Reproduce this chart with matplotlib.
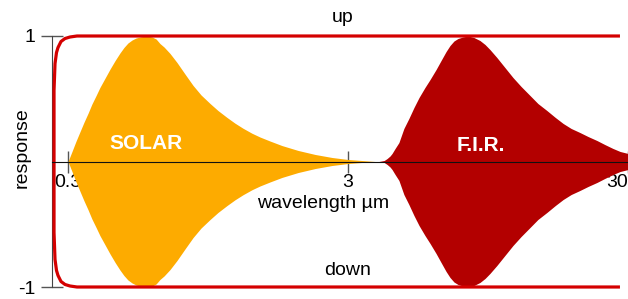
import numpy as np
import matplotlib
matplotlib.use("Agg")
import matplotlib.pyplot as plt

plt.rcParams['font.family'] = ['Liberation Sans', 'DejaVu Sans']

# ---------- Data ----------
# solar band, upper half (the lower half is its mirror image)
solar_wl = [0.300, 0.310, 0.320, 0.331, 0.342, 0.354, 0.365, 0.378, 0.390,
            0.407, 0.424, 0.442, 0.460, 0.475, 0.491, 0.508, 0.525, 0.547,
            0.575, 0.599, 0.619, 0.639, 0.661, 0.694, 0.735, 0.785, 0.839,
            0.896, 0.965, 1.03, 1.109, 1.185, 1.265, 1.362, 1.455, 1.58,
            1.743, 1.99, 2.29, 2.63, 3.0, 3.45, 3.75]
solar_resp = [0.0, 0.080, 0.159, 0.237, 0.312, 0.386, 0.457, 0.526, 0.590,
              0.665, 0.737, 0.805, 0.865, 0.908, 0.944, 0.968, 0.984, 0.994,
              1.0, 0.992, 0.976, 0.940, 0.912, 0.861, 0.789, 0.697, 0.606,
              0.530, 0.462, 0.406, 0.351, 0.305, 0.265, 0.225, 0.195, 0.163,
              0.127, 0.088, 0.056, 0.032, 0.016, 0.006, 0.0]

# far infrared band, upper half
fir_wl = [3.87, 4.04, 4.14, 4.24, 4.31, 4.42, 4.56, 4.75, 4.95, 5.16, 5.38,
          5.65, 5.89, 6.19, 6.45, 6.72, 6.94, 7.17, 7.41, 7.72, 8.05, 8.45,
          8.88, 9.26, 9.64, 10.2, 10.9, 11.65, 12.45, 13.4, 14.3, 15.4, 16.5,
          17.6, 18.8, 20.2, 21.6, 23.25, 24.8, 26.5, 28.1, 30.0, 35.0]
fir_resp = [0.0, 0.008, 0.024, 0.044, 0.064, 0.104, 0.151, 0.263, 0.343,
            0.43, 0.51, 0.59, 0.653, 0.733, 0.805, 0.876, 0.924, 0.96, 0.98,
            0.992, 1.0, 0.988, 0.964, 0.932, 0.892, 0.829, 0.749, 0.669,
            0.598, 0.526, 0.462, 0.406, 0.351, 0.303, 0.263, 0.231, 0.199,
            0.167, 0.135, 0.104, 0.08, 0.064, 0.04]

# envelope ("up" / "down" limits), upper half from right to left
env_wl = [28.08, 0.323, 0.305, 0.2927, 0.2832, 0.2763, 0.2729, 0.2696,
          0.2674, 0.2674]
env_resp = [1.0, 1.0, 0.992, 0.98, 0.956, 0.908, 0.868, 0.78, 0.566, 0.0]

xticks = [0.3, 3, 30]
xtick_labels = ["0.3", "3", "30"]
yticks = [-1, 1]
ytick_labels = ["-1", "1"]

# ---------- Plot ----------
fig = plt.figure(figsize=(6.28, 2.99), dpi=100)
ax = fig.add_axes([52/628, 12/299, 576/628, 251/299])

ax.fill_between(solar_wl, -np.array(solar_resp), solar_resp,
                color='#fdab00', lw=0, zorder=2)
ax.fill_between(fir_wl, -np.array(fir_resp), fir_resp,
                color='#b30000', lw=0, zorder=2)

ex = np.concatenate([env_wl, env_wl[::-1]])
ey = np.concatenate([env_resp, -np.array(env_resp[::-1])])
ax.plot(ex, ey, color='#d40000', lw=2.3, clip_on=False,
        solid_joinstyle='round', solid_capstyle='butt', zorder=3)

ax.set_xscale('log')
ax.set_xlim(0.263, 30)
ax.set_ylim(-1, 1)

ax.spines['top'].set_visible(False)
ax.spines['right'].set_visible(False)
ax.spines['bottom'].set_position(('data', 0))
ax.spines['bottom'].set_color('#111111')
ax.spines['bottom'].set_zorder(4)
ax.spines['left'].set_color('#444444')

ax.set_xticks(xticks)
ax.set_xticklabels(xtick_labels)
ax.xaxis.set_minor_locator(plt.NullLocator())
ax.get_xticklabels()[-1].set_ha('right')
ax.set_yticks(yticks)
ax.set_yticklabels(ytick_labels)
ax.tick_params(direction='inout', length=16, width=1, color='#555555',
               labelsize=14, pad=1)
ax.tick_params(axis='y', pad=4)

fig.text(22/628, 1 - 148/299, "response", fontsize=14, rotation=90,
         ha='center', va='center')
ax.text(2.44, -0.335, "wavelength µm", fontsize=14, ha='center', va='center')
ax.text(2.88, 1.147, "up", fontsize=14, ha='center', va='center',
        clip_on=False)
ax.text(3.0, -0.868, "down", fontsize=14, ha='center', va='center')

ax.text(0.57, 0.143, "SOLAR", fontsize=15, fontweight='bold', color='white',
        ha='center', va='center', zorder=5)
ax.text(8.96, 0.127, "F.I.R.", fontsize=15, fontweight='bold', color='white',
        ha='center', va='center', zorder=5)

fig.savefig("out.png", dpi=100)
